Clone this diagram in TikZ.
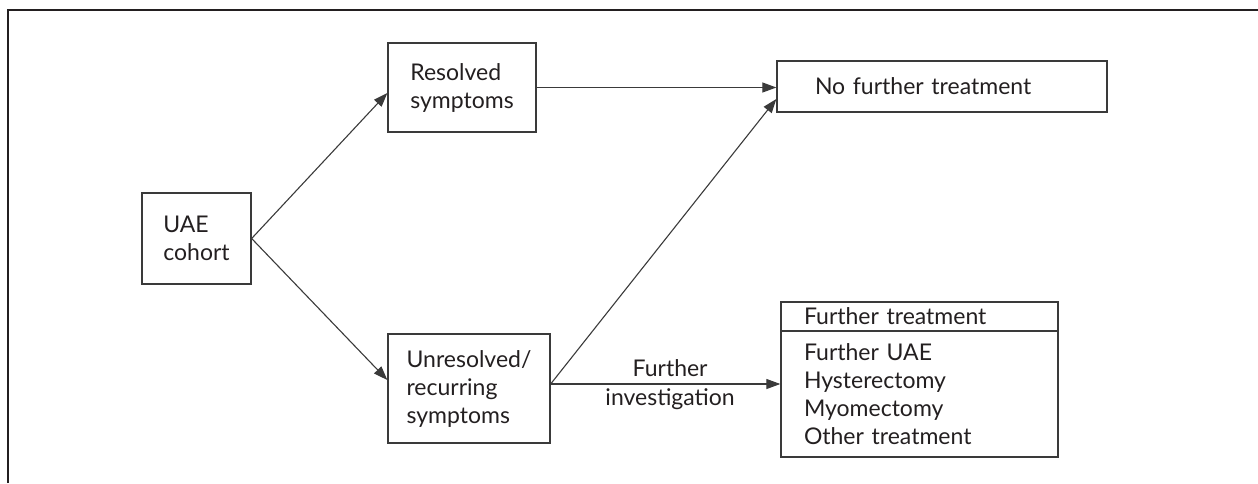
\documentclass[tikz,border=0pt]{standalone}
\usepackage{fontspec}
\setmainfont{Lato}
\usetikzlibrary{arrows.meta,calc}
\newcommand\diagfont{\fontsize{23}{28}\selectfont}
\definecolor{inkgray}{HTML}{231F20}
\definecolor{edgegray}{HTML}{3A3A3A}
\begin{document}
\begin{tikzpicture}[x=1pt,y=-1pt,
  box/.style={draw=edgegray,line width=1.3pt,inner sep=0pt,align=left,
    font=\diagfont,text=inkgray},
  flow/.style={draw=edgegray,line width=1.1pt,
    -{Triangle[length=14pt,width=10pt]}},
  lbl/.style={font=\diagfont,text=inkgray,inner sep=0pt,anchor=base},
  frame/.style={draw=inkgray,line width=2.4pt}]
\useasboundingbox (0,0) rectangle (1258,483);

% open frame: top and left rules only
\coordinate (fbl) at (8,483);
\coordinate (ftl) at (8,10);
\coordinate (ftr) at (1258,10);
\draw[frame] (fbl) -- (ftl) -- (ftr);

% boxes
\node[box,minimum width=109pt,minimum height=91pt] (uae) at (196.5,238.5)
  {UAE\\cohort};
\node[box,minimum width=148pt,minimum height=89pt] (res) at (462,87.5)
  {Resolved\\symptoms};
\node[box,minimum width=162pt,minimum height=109pt] (unres) at (469,388.5)
  {Unresolved/\\recurring\\symptoms};
\node[box,inner xsep=38pt,text width=254pt,minimum height=51pt] (nft) at (942,86.5)
  {No further treatment};
\node[box,inner xsep=23pt,text width=231pt,minimum height=29pt] (fthead) at (919.5,316.5)
  {Further treatment};
\node[box,inner xsep=23pt,text width=231pt,minimum height=126pt] (ftlist) at (919.5,394)
  {Further UAE\\Hysterectomy\\Myomectomy\\Other treatment};

% connectors
\coordinate (ustart) at ([yshift=4.5pt]unres.east);
\draw[flow] (uae.east) -- ([yshift=-5.5pt]res.west);
\draw[flow] (uae.east) -- ([yshift=8.5pt]unres.west);
\draw[flow] (res.east) -- (res.east -| nft.west);
\draw[flow] (ustart) -- ([yshift=-12.5pt]nft.west);
\draw[flow] (ustart) --
  node[lbl,pos=0.52,yshift=8pt] (lbla) {Further}
  node[lbl,pos=0.52,yshift=-21pt] (lblb) {investigation}
  (ustart -| ftlist.west);
\end{tikzpicture}
\end{document}
